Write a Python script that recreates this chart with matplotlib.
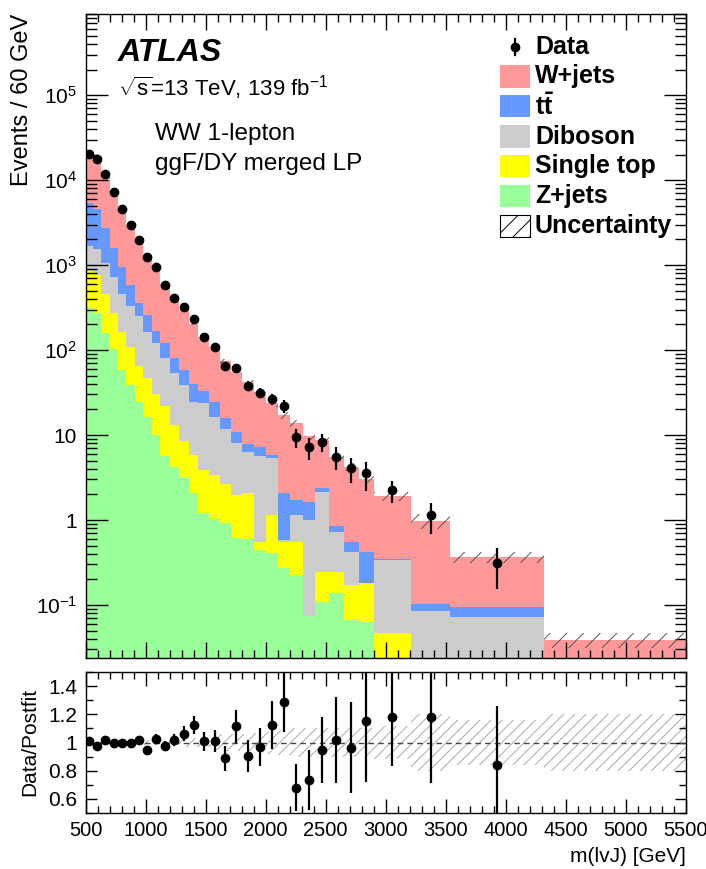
import numpy as np
import matplotlib
matplotlib.use("Agg")
import matplotlib.pyplot as plt
from matplotlib.patches import Rectangle
from matplotlib.lines import Line2D
from matplotlib.ticker import MultipleLocator, FixedLocator, FuncFormatter, NullFormatter

plt.rcParams['font.family'] = ['Liberation Sans', 'DejaVu Sans']
plt.rcParams['mathtext.fontset'] = 'custom'
plt.rcParams['mathtext.rm'] = 'Liberation Sans'
plt.rcParams['mathtext.it'] = 'Liberation Sans:italic'
plt.rcParams['mathtext.bf'] = 'Liberation Sans:bold'
plt.rcParams['hatch.linewidth'] = 0.7

# ---- binning (GeV) ----
bin_edges = np.array([500, 560, 630, 700, 770, 840, 910, 980, 1050, 1120, 1200,
                      1280, 1360, 1440, 1530, 1620, 1710, 1800, 1900, 2000, 2100,
                      2200, 2310, 2410, 2530, 2650, 2780, 2900, 3210, 3540, 4320, 5500])

# ---- observed data, events / 60 GeV (last bin empty) ----
data = np.array([20200, 17700, 11800, 7290, 4600, 2960, 1970, 1240, 940, 582,
                 413, 318, 230, 142, 109, 65.4, 60.8, 38.0, 31.5, 26.5,
                 21.9, 9.4, 7.17, 8.35, 5.56, 4.06, 3.54, 2.25, 1.15, 0.309])

# ---- post-fit backgrounds, events / 60 GeV ----
zjets = np.array([309, 270, 157, 102, 59, 38.7, 24.6, 16.4, 10.0, 5.6,
                  4.2, 3.18, 2.06, 1.2, 1.03, 0.914, 0.61, 0.59, 0.444, 0.405,
                  0.27, 0.225, 0.074, 0.109, 0.137, 0.0667, 0.0637, 0.02, 0.01, 0.01, 0.005])
singletop = np.array([548, 492, 299, 170, 103, 69.3, 40.4, 31.1, 20.5, 16.4,
                      8.9, 5.22, 3.74, 2.67, 2.35, 1.74, 1.36, 1.47, 0.112, 0.745,
                      0.286, 0.331, 0.0, 0.137, 0.109, 0.105, 0.116, 0.0264, 0.005, 0.002, 0.002])
diboson = np.array([817, 768, 591, 457, 294, 222, 185, 116.5, 89.5, 58,
                    39.9, 30.3, 18.8, 19.7, 13.0, 9.05, 6.03, 4.34, 5.1, 4.15,
                    0.024, 0.589, 0.926, 1.904, 0.484, 0.252, 0.0, 0.293, 0.0707, 0.061, 0.005])
ttbar = np.array([3636, 2990, 1653, 841, 499, 252, 110, 96, 47, 40,
                  27, 19.3, 14.9, 9.4, 8.2, 4.0, 2.9, 1.4, 1.64, 0.52,
                  1.48, 0.575, 0.63, 0.21, 0.12, 0.132, 0.244, 0.005, 0.0173, 0.021, 0.003])
wjets = np.array([14650, 13615, 8880, 5760, 3665, 2378, 1573, 1050, 748, 475,
                  326, 241, 165.5, 108, 83.4, 58, 43.6, 34.2, 25.2, 17.7,
                  15.0, 12.1, 8.1, 6.46, 4.62, 3.66, 2.64, 1.556, 0.871, 0.273, 0.0237])

# ---- relative post-fit uncertainty per bin ----
rel_unc = np.array([0.012, 0.012, 0.012, 0.012, 0.012, 0.012, 0.012, 0.015, 0.015, 0.015,
                    0.02, 0.03, 0.03, 0.03, 0.05, 0.06, 0.06, 0.06, 0.07, 0.08,
                    0.09, 0.1, 0.1, 0.1, 0.1, 0.1, 0.1, 0.12, 0.2, 0.16, 0.2])

labels = ['Data', 'W+jets', r'$\mathbf{t\bar{t}}$', 'Diboson', 'Single top', 'Z+jets', 'Uncertainty']
colors = {'W+jets': '#FF9999', 'ttbar': '#6699FF', 'Diboson': '#CCCCCC',
          'Single top': '#FFFF00', 'Z+jets': '#99FF99'}

W, H = 706, 869
fig = plt.figure(figsize=(W / 100, H / 100), dpi=100)


def fx(px):
    return px / W


def fy(py):
    return 1 - py / H


ax = fig.add_axes([fx(85.5), fy(658), fx(600), (658 - 14) / H])
axr = fig.add_axes([fx(85.5), fy(813), fx(600), (813 - 672) / H])

widths = np.diff(bin_edges)
centers = 0.5 * (bin_edges[:-1] + bin_edges[1:])
nb = len(widths)
nd = len(data)
floor = 1e-4

# stacked backgrounds: cumulative sums, each drawn from the floor, largest first
layers = [(zjets, colors['Z+jets']), (singletop, colors['Single top']),
          (diboson, colors['Diboson']), (ttbar, colors['ttbar']), (wjets, colors['W+jets'])]
cums = []
run = np.zeros(nb)
for vals, col in layers:
    run = run + vals
    cums.append((run.copy(), col))
total = cums[-1][0]
for z, (cum, col) in enumerate(reversed(cums)):
    ax.hist(centers, bins=bin_edges, weights=np.maximum(cum, floor), bottom=floor,
            histtype='stepfilled', color=col, linewidth=0, zorder=1 + z * 0.01)

# uncertainty band
ax.stairs(total * (1 + rel_unc), bin_edges, baseline=total * (1 - rel_unc), fill=True,
          facecolor='none', edgecolor='#555555', hatch='//', lw=0, zorder=2)

# data points with Poisson errors
counts = data * widths[:nd] / 60.0
derr = data / np.sqrt(counts)
ax.errorbar(centers[:nd], data, yerr=derr, fmt='o', color='black', ms=6,
            elinewidth=1.6, capsize=0, zorder=5)

ax.set_yscale('log')
ax.set_xlim(500, 5500)
ax.set_ylim(0.0238, 9.0e5)


def log_fmt(v, pos):
    e = int(round(np.log10(v)))
    if e == 0:
        return '1'
    if e == 1:
        return '10'
    return r'$10^{%d}$' % e


ax.yaxis.set_major_locator(FixedLocator([1e-1, 1, 10, 1e2, 1e3, 1e4, 1e5]))
ax.yaxis.set_major_formatter(FuncFormatter(log_fmt))
minors = [m * 10.0 ** e for e in range(-2, 6) for m in range(2, 10)]
ax.yaxis.set_minor_locator(FixedLocator(minors))
ax.yaxis.set_minor_formatter(NullFormatter())
ax.xaxis.set_major_locator(MultipleLocator(500))
ax.xaxis.set_minor_locator(MultipleLocator(100))
ax.tick_params(axis='x', which='both', labelbottom=False)
ax.tick_params(which='both', direction='in', top=True, right=True, labelsize=15, width=1.0)
ax.tick_params(axis='x', which='major', length=11.5)
ax.tick_params(axis='x', which='minor', length=5.8)
ax.tick_params(axis='y', which='major', length=15.5, pad=6)
ax.tick_params(axis='y', which='minor', length=8)
for t in ax.get_xticklines() + ax.get_yticklines():
    t.set_zorder(6)

# ratio panel
ratio = data / total[:nd]
rerr = derr / total[:nd]
axr.stairs(1 + rel_unc, bin_edges, baseline=1 - rel_unc, fill=True,
           facecolor='none', edgecolor='#AAAAAA', hatch='///', lw=0)
axr.axhline(1.0, ls=(0, (4, 3)), color='#444444', lw=1.0)
axr.errorbar(centers[:nd], ratio, yerr=rerr, fmt='o', color='black', ms=6,
             elinewidth=1.6, capsize=0, zorder=5)
axr.set_xlim(500, 5500)
axr.set_ylim(0.5, 1.5)
axr.yaxis.set_major_locator(FixedLocator([0.6, 0.8, 1.0, 1.2, 1.4]))
axr.yaxis.set_major_formatter(FuncFormatter(lambda v, p: '1' if abs(v - 1) < 1e-6 else '%.1f' % v))
axr.yaxis.set_minor_locator(MultipleLocator(0.1))
axr.xaxis.set_major_locator(MultipleLocator(500))
axr.xaxis.set_minor_locator(MultipleLocator(100))
axr.tick_params(which='both', direction='in', top=True, right=True, labelsize=15, width=1.0)
axr.tick_params(axis='x', which='major', length=10, pad=6, labelsize=14.5)
axr.tick_params(axis='x', which='minor', length=5)
axr.tick_params(axis='y', which='major', length=8, pad=6)
axr.tick_params(axis='y', which='minor', length=5)

for a in (ax, axr):
    for s in a.spines.values():
        s.set_linewidth(1.0)
        s.set_zorder(7)

# axis titles
fig.text(fx(22), fy(14), 'Events / 60 GeV', rotation=90, ha='center', va='top', fontsize=17)
fig.text(fx(30), fy(742), 'Data/Postfit', rotation=90, ha='center', va='center', fontsize=15)
fig.text(fx(686), fy(857), 'm(lvJ) [GeV]', ha='right', va='center', fontsize=15)

# labels
fig.text(fx(118), fy(61), 'ATLAS', fontsize=23, fontweight='bold', fontstyle='italic',
         ha='left', va='baseline')
fig.text(fx(118), fy(96), r'$\sqrt{\mathrm{s}}$=13 TeV, 139 fb$^{-1}$', fontsize=16,
         ha='left', va='baseline')
fig.text(fx(155), fy(140), 'WW 1-lepton', fontsize=17.5, ha='left', va='baseline')
fig.text(fx(155), fy(170), 'ggF/DY merged LP', fontsize=17.5, ha='left', va='baseline')

# legend
row_y = [46.5, 76.5, 106.5, 136.5, 166, 196, 226]
fill_cols = [None, colors['W+jets'], colors['ttbar'], colors['Diboson'],
             colors['Single top'], colors['Z+jets'], None]
for i, lab in enumerate(labels):
    yc = row_y[i]
    if i == 0:
        fig.add_artist(Line2D([fx(515), fx(515)], [fy(yc - 8), fy(yc + 8)],
                              color='black', lw=1.6))
        fig.add_artist(Line2D([fx(515)], [fy(yc)], marker='o', ms=6, color='black'))
    elif lab == 'Uncertainty':
        fig.add_artist(Rectangle((fx(500), fy(yc + 11)), fx(30), 22 / H, facecolor='white',
                                 edgecolor='black', hatch='//', lw=0.8))
    else:
        fig.add_artist(Rectangle((fx(500), fy(yc + 11)), fx(30), 22 / H,
                                 facecolor=fill_cols[i], edgecolor='none'))
    fig.text(fx(535), fy(yc), lab, fontsize=18, fontweight='bold', ha='left', va='center')

fig.savefig('out.png', dpi=100)
